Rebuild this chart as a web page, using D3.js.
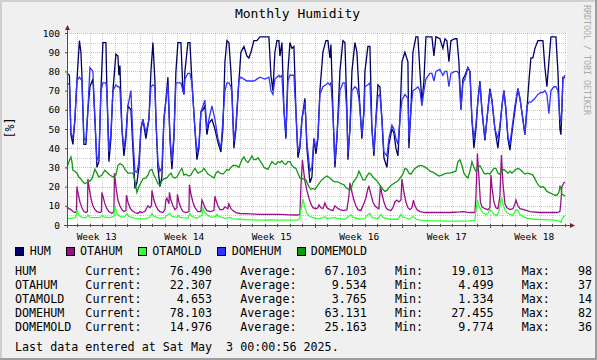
<!DOCTYPE html>
<html><head><meta charset="utf-8">
<script src="https://cdn.jsdelivr.net/npm/d3@7"></script>
<style>body{margin:0;background:#F0F0F0}svg{display:block}text{font-family:"DejaVu Sans Mono",monospace}</style>
</head><body><svg id="c" width="597" height="360"></svg>
<script>
// Samples: [days since 2025-03-24 00:00, value in %]
const HUM = [[0.16,79],[0.36,78],[0.48,47],[0.64,42],[0.80,55],[0.96,75],[1.16,96],[1.28,90],[1.36,78],[1.52,42],[1.68,42],[1.84,60],[2.00,72],[2.24,76],[2.40,55],[2.56,30],[2.72,33],[2.88,70],[3.04,95],[3.28,95],[3.36,70],[3.52,33],[3.68,45],[3.84,70],[4.08,89],[4.24,88],[4.32,78],[4.40,83],[4.56,50],[4.72,36],[4.88,45],[5.04,62],[5.28,60],[5.44,40],[5.60,19],[5.76,22],[5.92,30],[6.08,50],[6.24,55],[6.48,45],[6.72,55],[6.88,80],[7.04,95],[7.20,75],[7.28,55],[7.44,30],[7.60,20],[7.76,25],[7.92,55],[8.08,65],[8.24,77],[8.40,45],[8.56,29],[8.72,45],[8.88,80],[9.04,95],[9.28,95],[9.44,70],[9.52,68],[9.60,80],[9.84,95],[10.00,95],[10.16,75],[10.40,50],[10.56,34],[10.72,40],[10.88,59],[11.04,60],[11.20,62],[11.36,47],[11.52,53],[11.76,55],[12.00,50],[12.24,43],[12.48,38],[12.64,50],[12.80,85],[12.96,96],[13.12,95],[13.28,80],[13.36,70],[13.52,40],[13.68,50],[13.92,75],[14.08,90],[14.32,93],[14.56,88],[14.72,87],[14.88,90],[15.12,96],[15.36,96],[15.60,98],[16.00,98],[16.32,98],[16.48,78],[16.64,70],[16.80,90],[16.96,96],[17.12,96],[17.20,88],[17.36,95],[17.52,60],[17.68,45],[17.84,80],[18.00,95],[18.16,92],[18.32,93],[18.48,60],[18.64,35],[18.80,40],[18.96,55],[19.20,66],[19.36,40],[19.60,22],[19.76,25],[19.92,45],[20.08,37],[20.24,45],[20.40,70],[20.64,90],[20.88,96],[21.04,96],[21.20,87],[21.28,94],[21.44,60],[21.60,30],[21.76,45],[22.00,80],[22.24,96],[22.40,95],[22.56,60],[22.64,34],[22.80,50],[22.96,80],[23.20,95],[23.36,90],[23.52,70],[23.76,45],[23.92,60],[24.00,80],[24.24,93],[24.40,93],[24.56,50],[24.72,36],[24.88,55],[25.04,73],[25.20,72],[25.36,55],[25.52,35],[25.76,30],[25.92,42],[26.16,50],[26.32,48],[26.48,40],[26.64,36],[26.80,55],[26.96,85],[27.20,90],[27.44,85],[27.52,40],[27.68,60],[27.84,90],[28.08,98],[28.24,98],[28.40,80],[28.56,64],[28.72,75],[28.88,98],[29.20,98],[29.36,98],[29.52,88],[29.68,98],[30.00,97],[30.24,92],[30.40,97],[30.56,96],[30.72,85],[30.88,96],[31.20,97],[31.36,97],[31.52,85],[31.68,60],[31.84,76],[32.00,78],[32.24,82],[32.40,80],[32.56,55],[32.72,40],[32.88,50],[33.04,65],[33.20,75],[33.36,60],[33.60,44],[33.76,55],[34.00,71],[34.16,65],[34.40,50],[34.64,40],[34.80,50],[34.96,62],[35.12,70],[35.28,60],[35.44,45],[35.60,39],[35.76,48],[36.00,60],[36.24,71],[36.40,66],[36.64,55],[36.80,47],[36.96,60],[37.12,75],[37.28,87],[37.44,87],[37.60,92],[37.84,96],[38.08,96],[38.24,96],[38.40,82],[38.56,72],[38.72,85],[38.88,98],[39.12,98],[39.28,98],[39.44,80],[39.60,50],[39.68,47],[39.76,60],[39.84,77],[40.00,76.5]];
const OTAHUM = [[0.16,9.5],[0.32,8.5],[0.48,8],[0.64,7],[0.80,6.5],[0.92,7],[0.96,20],[1.04,17],[1.20,12],[1.36,9],[1.52,7],[1.68,6.5],[1.80,7],[1.84,24],[1.92,20],[2.08,14],[2.24,10],[2.40,8],[2.56,7],[2.80,6.5],[2.92,7],[2.96,17],[3.04,15],[3.20,11],[3.36,8.5],[3.52,7],[3.76,6],[3.92,7],[3.96,27],[4.08,20],[4.24,13],[4.40,10],[4.56,8],[4.72,7],[4.88,7.5],[4.92,15.5],[5.04,12],[5.20,9],[5.36,7.5],[5.60,6.5],[5.84,6],[6.00,7],[6.16,6.5],[6.40,7],[6.64,10],[6.80,9],[6.92,10],[6.96,18],[7.12,13],[7.28,10],[7.44,8],[7.60,7],[7.84,6.5],[8.00,8],[8.08,13],[8.16,14],[8.32,11],[8.36,17],[8.48,13],[8.64,10],[8.80,8],[8.96,9],[9.00,16],[9.12,12],[9.28,9],[9.44,7],[9.68,6.5],[9.92,7],[9.96,21],[10.08,16],[10.24,12],[10.40,9],[10.64,7],[10.88,7],[10.96,13],[11.04,12],[11.20,9],[11.36,7.5],[11.60,7],[11.92,7.5],[12.00,15],[12.08,13],[12.24,10],[12.40,8],[12.64,8],[12.80,9.5],[13.04,8.5],[13.12,11],[13.28,8.5],[13.44,7.5],[13.68,6.5],[14.00,6],[14.80,5.8],[15.60,5.5],[16.40,5.5],[17.20,5.5],[18.00,5.3],[18.56,5.2],[18.80,5.5],[18.88,20],[19.00,34],[19.12,27],[19.20,23],[19.36,18],[19.52,14],[19.68,11],[19.84,9],[20.08,8.5],[20.24,9],[20.32,10.5],[20.48,9],[20.64,8.5],[20.80,11.5],[20.96,9],[21.20,8],[21.44,7.5],[21.60,10],[21.76,9],[22.00,8],[22.32,7.5],[22.56,8],[22.72,15],[22.80,22],[22.96,17],[23.12,13],[23.28,10],[23.44,8],[23.68,7.5],[23.84,10],[24.08,14],[24.24,19],[24.32,20],[24.48,16],[24.64,12],[24.80,10],[24.96,9],[25.12,8.5],[25.24,20.5],[25.36,16],[25.52,12],[25.68,9],[25.84,8],[26.08,7.5],[26.24,9],[26.40,12],[26.56,13],[26.72,12],[26.88,13],[26.96,24],[27.12,17],[27.28,12],[27.44,9],[27.60,8],[27.76,9],[27.88,13],[28.00,10],[28.16,8],[28.40,7],[28.80,6.5],[29.20,6.5],[30.00,6.5],[30.80,6.5],[31.60,6.8],[31.84,7],[32.40,6.5],[32.80,6.5],[32.88,15],[33.00,37.2],[33.12,25],[33.24,12],[33.36,9.5],[33.60,8.5],[33.84,8],[34.00,9],[34.08,26],[34.16,20],[34.32,12],[34.48,9],[34.64,8.5],[34.80,15],[34.92,36.5],[35.04,22],[35.20,11],[35.36,9],[35.60,8],[35.84,8.5],[36.00,11],[36.08,13],[36.24,10],[36.40,8.5],[36.72,8],[37.20,7],[38.00,6.5],[38.80,6.5],[39.36,6.5],[39.60,7],[39.68,12],[39.76,20],[39.92,22],[40.00,22.3]];
const OTAMOLD = [[0.16,3.5],[0.56,3.5],[0.88,4],[0.96,7.8],[1.12,5],[1.36,4],[1.68,3.8],[1.84,5.2],[2.00,4],[2.40,3.8],[2.80,3.8],[2.96,5],[3.12,4.2],[3.60,3.8],[3.92,4.5],[4.00,9.5],[4.16,6],[4.40,4.5],[4.72,4],[4.88,5],[4.96,6],[5.12,4.5],[5.60,3.5],[6.00,3.2],[6.40,3.2],[6.80,4],[6.96,6],[7.12,4.5],[7.60,3.5],[8.00,3.8],[8.16,5],[8.40,6],[8.56,4.5],[8.96,4],[9.04,5],[9.20,4],[9.84,3.5],[10.00,6],[10.16,4.5],[10.56,3.5],[10.96,5],[11.04,8.7],[11.20,6.5],[11.44,5],[11.76,4],[12.08,4.5],[12.16,5.5],[12.32,4.5],[12.80,3.5],[13.20,4],[13.44,3.2],[14.00,3],[14.80,2.7],[15.60,2.5],[16.40,2.6],[17.20,2.5],[18.00,2.5],[18.64,2.6],[18.80,3.5],[18.88,8],[19.04,13.5],[19.20,9],[19.36,6],[19.60,4.3],[20.00,3.5],[20.40,3.3],[20.80,4.3],[20.96,3.3],[21.60,3.8],[21.76,3.5],[22.40,3],[22.72,4.5],[22.88,5.4],[23.04,4],[23.60,3],[24.00,3.5],[24.24,5.5],[24.40,6],[24.56,4],[25.04,3.2],[25.28,5.5],[25.44,4],[26.00,3],[26.64,3],[26.88,5.5],[27.04,4.3],[27.60,3],[27.84,4.5],[28.08,3],[28.40,2.5],[29.20,2.2],[30.00,2.2],[30.80,2],[31.60,2],[32.40,2.1],[32.80,2.5],[32.88,7],[33.00,13],[33.12,10],[33.28,8],[33.44,6.5],[33.68,5.5],[33.84,6],[34.00,8],[34.16,7],[34.32,5.5],[34.56,5],[34.72,7],[34.92,14.2],[35.04,11],[35.20,8],[35.36,6.5],[35.60,5.5],[35.84,5],[36.08,8],[36.24,7.5],[36.40,5.5],[36.64,4.5],[36.96,3.5],[37.60,3],[38.40,2.8],[39.20,2.5],[39.52,2.2],[39.68,1.4],[39.76,3],[39.92,4.5],[40.00,4.65]];
const DOMEHUM = [[0.16,74],[0.36,73],[0.48,48],[0.64,45],[0.80,55],[0.96,75],[1.16,77],[1.28,76],[1.36,75],[1.52,45],[1.68,44],[1.84,60],[2.00,82],[2.24,80],[2.40,55],[2.56,34],[2.72,36],[2.88,70],[3.04,74],[3.28,74],[3.36,70],[3.52,38],[3.68,48],[3.84,70],[4.08,73],[4.24,72],[4.32,72],[4.40,71],[4.56,50],[4.72,40],[4.88,47],[5.04,62],[5.28,70],[5.44,45],[5.60,28],[5.76,27.5],[5.92,33],[6.08,50],[6.24,55],[6.48,48],[6.72,55],[6.88,72],[7.04,73],[7.20,72],[7.28,55],[7.44,33],[7.60,28],[7.76,30],[7.92,55],[8.08,65],[8.24,73],[8.40,47],[8.56,33],[8.72,47],[8.88,74],[9.04,74],[9.28,74],[9.44,70],[9.52,68],[9.60,76],[9.84,79],[10.00,79],[10.16,74],[10.40,50],[10.56,38],[10.72,42],[10.88,59],[11.04,62],[11.20,65],[11.36,50],[11.52,55],[11.76,62],[12.00,55],[12.24,45],[12.48,40],[12.64,55],[12.80,70],[12.96,74],[13.12,74],[13.28,72],[13.36,68],[13.52,43],[13.68,52],[13.92,76],[14.08,77],[14.32,76],[14.56,75],[14.72,75],[14.88,75],[15.12,75],[15.36,76],[15.60,77],[16.00,76],[16.32,77],[16.48,70],[16.64,68],[16.80,76],[16.96,77],[17.12,78],[17.20,77],[17.36,78],[17.52,60],[17.68,47],[17.84,75],[18.00,78],[18.16,78],[18.32,78],[18.48,58],[18.64,38],[18.80,42],[18.96,55],[19.20,64],[19.36,43],[19.60,28],[19.76,30],[19.92,45],[20.08,40],[20.24,46],[20.40,68],[20.64,72],[20.88,73],[21.04,74],[21.20,73],[21.28,74],[21.44,58],[21.60,33],[21.76,46],[22.00,70],[22.24,74],[22.40,74],[22.56,58],[22.64,37],[22.80,50],[22.96,70],[23.20,72],[23.36,71],[23.52,66],[23.76,47],[23.92,58],[24.00,72],[24.24,73],[24.40,74],[24.56,50],[24.72,38],[24.88,55],[25.04,67],[25.20,68],[25.36,55],[25.52,38],[25.76,36],[25.92,45],[26.16,52],[26.32,50],[26.48,45],[26.64,42],[26.80,55],[26.96,65],[27.20,68],[27.44,66],[27.52,45],[27.68,60],[27.84,70],[28.08,71],[28.24,72],[28.40,70],[28.56,62],[28.72,70],[28.88,76],[29.20,79],[29.36,79],[29.52,75],[29.68,80],[30.00,81],[30.24,78],[30.40,80],[30.56,80],[30.72,72],[30.88,79],[31.20,80],[31.36,80],[31.52,79],[31.68,60],[31.84,74],[32.00,76],[32.24,82],[32.40,80],[32.56,55],[32.72,45],[32.88,52],[33.04,65],[33.20,74],[33.36,60],[33.60,45],[33.76,55],[34.00,70],[34.16,65],[34.40,50],[34.64,45],[34.80,52],[34.96,62],[35.12,70],[35.28,60],[35.44,46],[35.60,42],[35.76,50],[36.00,62],[36.24,71],[36.40,66],[36.64,55],[36.80,47],[36.96,62],[37.12,64],[37.28,64],[37.44,65],[37.60,66],[37.84,68],[38.08,69],[38.24,69],[38.40,70],[38.56,68],[38.72,58],[38.88,70],[39.12,72],[39.28,72],[39.44,70],[39.60,55],[39.68,54],[39.76,62],[39.84,76],[40.00,78.1]];
const DOMEMOLD = [[0.16,29.5],[0.32,33],[0.48,35.5],[0.56,33],[0.64,28.5],[0.80,28],[0.96,27],[1.12,25],[1.28,24],[1.44,22.5],[1.60,21.5],[1.84,22.5],[2.00,23],[2.16,24],[2.40,29],[2.56,27],[2.72,25],[2.96,26],[3.20,28.5],[3.44,27],[3.60,26],[3.84,25],[4.08,26],[4.24,31],[4.40,32],[4.64,31],[4.80,29],[5.04,27],[5.28,27],[5.44,27],[5.60,23],[5.76,17],[5.92,20],[6.08,22],[6.24,24],[6.48,24.5],[6.64,26],[6.80,28.5],[6.96,29],[7.12,26],[7.28,24],[7.44,21.5],[7.60,21],[7.76,23],[7.92,24],[8.16,24.5],[8.32,26],[8.48,27],[8.64,25],[8.80,24.5],[8.96,25],[9.20,28],[9.36,29.5],[9.52,26],[9.68,26.5],[9.92,25.5],[10.08,26],[10.24,28],[10.40,29.5],[10.64,27],[10.80,27.5],[10.96,28],[11.12,29.5],[11.28,28],[11.44,26.5],[11.68,25.5],[11.92,24.5],[12.08,27],[12.24,28],[12.40,27],[12.64,26.5],[12.80,27.5],[12.96,29],[13.12,28.5],[13.28,30],[13.44,31],[13.68,31],[13.92,30],[14.16,34],[14.32,35.5],[14.48,33.5],[14.64,32.5],[14.80,34],[14.96,36],[15.12,34],[15.28,34],[15.44,35],[15.60,33.5],[15.76,32],[15.92,30],[16.08,29.5],[16.24,29],[16.40,31],[16.56,33],[16.72,32],[16.88,31.5],[17.04,33],[17.20,32.5],[17.36,33.5],[17.52,32],[17.68,31.5],[17.84,33],[18.00,33],[18.16,31],[18.32,30],[18.48,29.5],[18.64,27],[18.80,24.5],[19.04,24],[19.28,23.5],[19.52,20],[19.68,18.5],[19.84,19],[20.00,18.5],[20.16,20],[20.32,21.5],[20.48,23],[20.72,24.5],[20.96,25.5],[21.20,24.5],[21.44,23],[21.60,22.5],[21.84,22.5],[22.08,21.5],[22.32,21],[22.48,19.5],[22.72,18.5],[22.88,18.5],[23.04,22],[23.20,23.5],[23.36,25],[23.52,28],[23.68,26],[23.84,23.5],[24.00,23.5],[24.16,25.5],[24.32,27],[24.48,26.5],[24.64,25],[24.80,24],[24.96,23],[25.12,21.5],[25.28,20],[25.44,18.5],[25.60,17.5],[25.76,18],[25.92,19.5],[26.16,21],[26.40,22],[26.64,23],[26.88,25],[27.04,26.5],[27.20,29.5],[27.36,29],[27.52,27],[27.68,26.5],[27.84,28],[28.00,29.5],[28.24,30.5],[28.48,31],[28.72,30.5],[28.96,29.5],[29.20,28],[29.44,27.5],[29.68,26.5],[29.92,25.5],[30.16,26],[30.32,26.5],[30.56,27],[30.80,27],[31.04,27.5],[31.28,28],[31.44,33],[31.60,34],[31.76,31],[31.92,27],[32.08,25.5],[32.24,24.5],[32.40,28],[32.56,33],[32.72,30],[32.88,28],[33.04,30],[33.20,31],[33.36,29],[33.52,27],[33.68,26.5],[33.84,27],[34.00,26.5],[34.16,28],[34.32,29.5],[34.48,29.5],[34.64,27],[34.80,26.5],[34.96,28],[35.12,29],[35.28,28],[35.44,27],[35.60,28],[35.76,27],[35.92,28],[36.08,29],[36.24,29.5],[36.40,29],[36.56,28],[36.80,26.5],[37.04,27],[37.28,26.5],[37.44,26],[37.60,24],[37.76,22],[37.92,20.5],[38.08,19.5],[38.24,20],[38.40,19],[38.56,17.5],[38.72,17],[38.88,16.5],[39.04,16],[39.20,15.5],[39.36,15.5],[39.52,17],[39.60,20.5],[39.68,19],[39.76,16],[39.92,15.5],[40.00,15]];

const seriesNames = ["HUM","OTAHUM","OTAMOLD","DOMEHUM","DOMEMOLD"];
const seriesColors = ["#000066","#991188","#33FF33","#3333FF","#119911"];
const currentVals = [76.490, 22.307, 4.653, 78.103, 14.976];
const averageVals = [67.103, 9.534, 3.765, 63.131, 25.163];
const minVals = [19.013, 4.499, 1.334, 27.455, 9.774];
const maxVisible = ["98","37","14","82","36"];
const yTicks = [0,10,20,30,40,50,60,70,80,90,100];
const weekLabels = ["Week 13","Week 14","Week 15","Week 16","Week 17","Week 18"];
const titleText = "Monthly Humidity";
const yAxisLabel = "[%]";
const watermark = "RRDTOOL / TOBI OETIKER";
const lastUpdate = "Last data entered at Sat May  3 00:00:56 2025.";

const dataSeries = [HUM, OTAHUM, OTAMOLD, DOMEHUM, DOMEMOLD];
const t0 = Date.UTC(2025, 2, 24, 0, 0);
const DAY = 86400000;
const toDate = d => new Date(t0 + d * DAY);

const W = 597, H = 360;
const L = 67, R = 567, T = 33, B = 225;
const svg = d3.select("#c");

const x = d3.scaleUtc().domain([new Date(Date.UTC(2025,2,24,4)), new Date(Date.UTC(2025,4,3,4))]).range([L, R]);
const y = d3.scaleLinear().domain([0, 100]).range([B, T]);

// background and frame
svg.append("rect").attr("width", W).attr("height", H).attr("fill", "#F0F0F0");
svg.append("rect").attr("x", 0).attr("y", 0).attr("width", W).attr("height", 2).attr("fill", "#CFCFCF");
svg.append("rect").attr("x", 0).attr("y", 0).attr("width", 2).attr("height", H).attr("fill", "#CFCFCF");
svg.append("rect").attr("x", 0).attr("y", H-2).attr("width", W).attr("height", 2).attr("fill", "#9E9E9E");
svg.append("rect").attr("x", W-2).attr("y", 0).attr("width", 2).attr("height", H).attr("fill", "#9E9E9E");
svg.append("rect").attr("x", L).attr("y", T).attr("width", R-L).attr("height", B-T).attr("fill", "#FFFFFF");

// grid
const g = svg.append("g").attr("shape-rendering", "crispEdges");
const minorCol = "rgba(143,143,143,0.46)", majorCol = "rgba(222,80,80,0.46)";
const days = d3.utcDay.range(x.domain()[0], x.domain()[1]);
const sundays = d3.utcSunday.range(x.domain()[0], x.domain()[1]);
const isSunday = d => d.getUTCDay() === 0;
g.selectAll(".vmin").data(days.filter(d => !isSunday(d))).join("line")
  .attr("x1", d => Math.round(x(d)) + 0.5).attr("x2", d => Math.round(x(d)) + 0.5)
  .attr("y1", T).attr("y2", B).attr("stroke", minorCol).attr("stroke-dasharray", "1,1");
const hMinor = d3.range(5, 100, 10);
g.selectAll(".hmin").data(hMinor).join("line")
  .attr("x1", L).attr("x2", R).attr("y1", d => Math.round(y(d)) + 0.5).attr("y2", d => Math.round(y(d)) + 0.5)
  .attr("stroke", minorCol).attr("stroke-dasharray", "1,1");
g.selectAll(".vmaj").data(sundays).join("line")
  .attr("x1", d => Math.round(x(d)) + 0.5).attr("x2", d => Math.round(x(d)) + 0.5)
  .attr("y1", T).attr("y2", B).attr("stroke", majorCol).attr("stroke-dasharray", "1,1");
g.selectAll(".hmaj").data(yTicks.filter(v => v > 0)).join("line")
  .attr("x1", L).attr("x2", R).attr("y1", d => Math.round(y(d)) + 0.5).attr("y2", d => Math.round(y(d)) + 0.5)
  .attr("stroke", majorCol).attr("stroke-dasharray", "1,1");

// data lines
const line = d3.line().x(d => x(toDate(d[0]))).y(d => y(d[1]));
const lg = svg.append("g");
dataSeries.forEach((s, i) => {
  lg.append("path").datum(s).attr("d", line).attr("fill", "none")
    .attr("stroke", seriesColors[i]).attr("stroke-width", 1.3).attr("stroke-linejoin", "miter");
});

// axes
const axisCol = "#4F4F4F";
const yAxis = d3.axisLeft(y).tickValues(yTicks).tickSize(2).tickPadding(5).tickFormat(d3.format("d"));
const ya = svg.append("g").attr("transform", `translate(${L},0)`).call(yAxis);
ya.select(".domain").remove();
ya.selectAll("line").attr("stroke", axisCol);
ya.selectAll("text").attr("font-size", "9.5px").attr("fill", "#000").attr("font-family", "DejaVu Sans Mono");

const weekMid = sundays.map(d => new Date(d.getTime() - 3.5 * DAY));
weekMid.push(new Date(sundays[sundays.length-1].getTime() + 3.5 * DAY));
const xAxis = d3.axisBottom(x).tickValues(weekMid).tickSize(0).tickFormat((d, i) => weekLabels[i]);
const xa = svg.append("g").attr("transform", `translate(0,${B})`).call(xAxis);
xa.select(".domain").remove();
xa.selectAll("text").attr("y", 14.5).attr("dy", 0).attr("font-size", "9.5px").attr("fill", "#000").attr("font-family", "DejaVu Sans Mono");

// axis ticks on x
const tk = svg.append("g").attr("shape-rendering", "crispEdges");
tk.selectAll("line").data(days).join("line")
  .attr("x1", d => Math.round(x(d)) + 0.5).attr("x2", d => Math.round(x(d)) + 0.5)
  .attr("y1", B - 1).attr("y2", d => isSunday(d) ? B + 3 : B + 2).attr("stroke", axisCol);

// axis lines and arrows
svg.append("line").attr("x1", L - 3).attr("x2", R + 4).attr("y1", B + 0.5).attr("y2", B + 0.5).attr("stroke", axisCol).attr("shape-rendering", "crispEdges");
svg.append("line").attr("x1", L + 0.5).attr("x2", L + 0.5).attr("y1", B + 3).attr("y2", T - 4).attr("stroke", axisCol).attr("shape-rendering", "crispEdges");
svg.append("path").attr("d", `M${R+3},${B-2} L${R+8},${B+0.5} L${R+3},${B+3} Z`).attr("fill", "#7F1F1F");
svg.append("path").attr("d", `M${L-2},${T-3} L${L+0.5},${T-8} L${L+3},${T-3} Z`).attr("fill", "#7F1F1F");

// title and side texts
svg.append("text").attr("x", 297.5).attr("y", 17.5).attr("text-anchor", "middle").attr("font-size", "13px").text(titleText);
svg.append("text").attr("transform", "translate(13.5,128) rotate(-90)").attr("text-anchor", "middle").attr("font-size", "11.7px").text(yAxisLabel);
svg.append("text").attr("transform", "translate(584,5) rotate(90)").attr("text-anchor", "start").attr("font-size", "8.3px").attr("fill", "#AAAAAA").text(watermark);

// legend
const boxX = [15.5, 66.5, 138.5, 217.5, 297];
const textX = [29.7, 80, 152.3, 231.7, 310.7];
const leg = svg.append("g");
seriesNames.forEach((n, i) => {
  leg.append("rect").attr("x", boxX[i]).attr("y", 247).attr("width", 8).attr("height", 8)
    .attr("fill", seriesColors[i]).attr("stroke", "#000").attr("stroke-width", 1).attr("shape-rendering", "crispEdges");
  leg.append("text").attr("x", textX[i]).attr("y", 255.3).attr("font-size", "11.7px").text(n);
});

const f3 = d3.format(".3f");
const pad = (s, n) => s.padStart(n);
seriesNames.forEach((n, i) => {
  const str = n.padEnd(10) + "Current:" + pad(f3(currentVals[i]), 10) + "    Average:" + pad(f3(averageVals[i]), 10)
    + "    Min:" + pad(f3(minVals[i]), 10) + "    Max:    " + maxVisible[i];
  svg.append("text").attr("x", 15).attr("y", 274.5 + 14 * i).attr("font-size", "11.7px")
    .style("white-space", "pre").text(str);
});
svg.append("text").attr("x", 15).attr("y", 351).attr("font-size", "11.7px").style("white-space", "pre").text(lastUpdate);
</script></body></html>
